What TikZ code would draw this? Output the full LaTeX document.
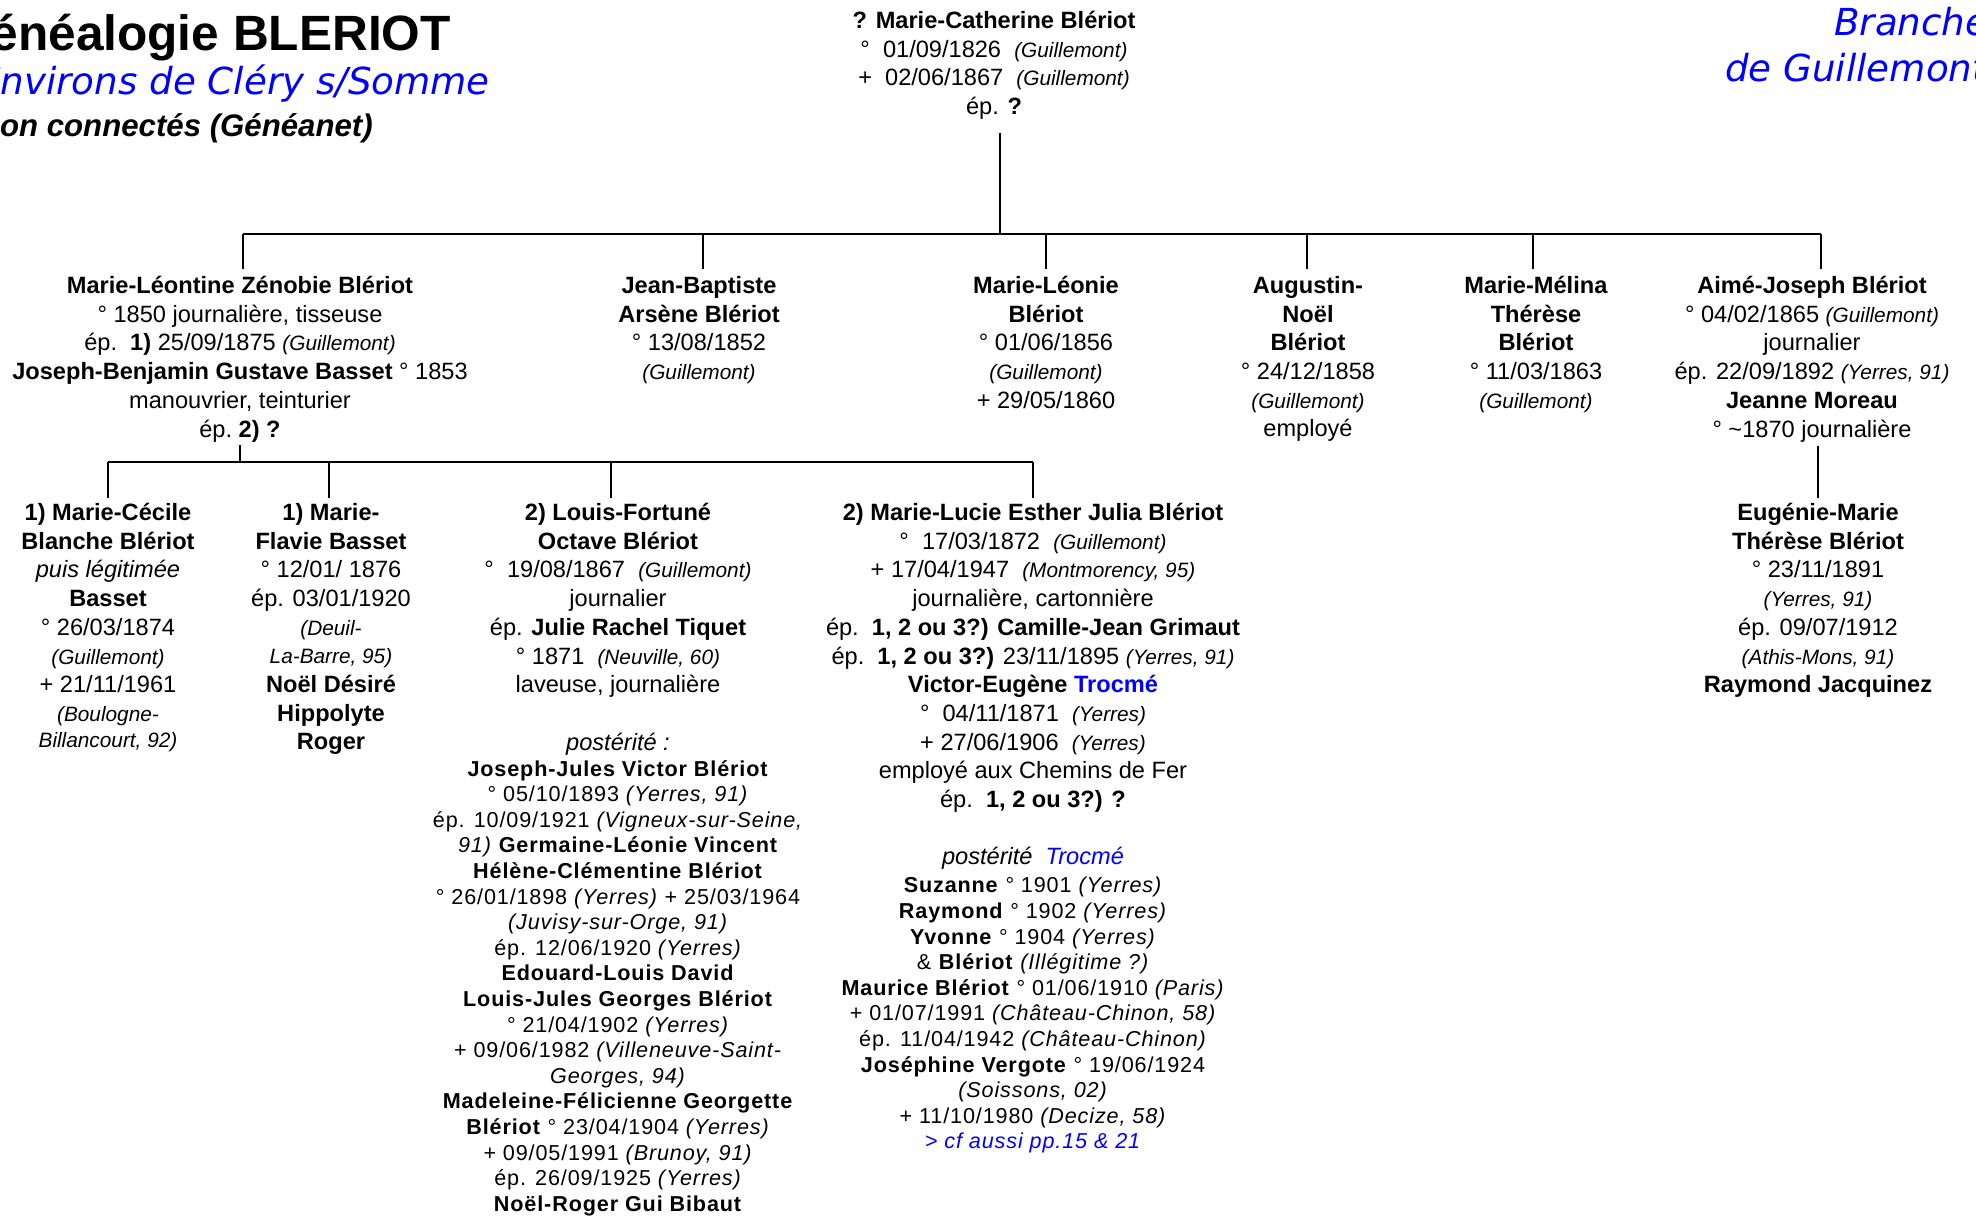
\documentclass[tikz,border=0pt]{standalone}
\usepackage{fontspec}
\setmainfont{Liberation Sans}
\newfontfamily\verdana{DejaVu Sans}
\newfontfamily\postfont[LetterSpace=4]{Liberation Sans}
\newcommand{\lieu}[1]{{\fontsize{10.4}{14.35}\selectfont\itshape #1}}

\begin{document}
\begin{tikzpicture}[x=0.5pt,y=-0.5pt,line width=1.2pt,
  fiche/.style={anchor=north,align=center,inner sep=0pt,font=\fontsize{11.8}{14.35}\selectfont},
  descend/.style={anchor=north,align=center,inner sep=0pt,font=\fontsize{10.8}{12.8}\postfont}]
\useasboundingbox (0,0) rectangle (1976,1217);
% titres
\node[anchor=base east,inner sep=0pt,font=\fontsize{24.8}{28}\selectfont\bfseries] (t1)at(452,50){Généalogie BLERIOT};
\node[anchor=base east,inner sep=0pt,text=blue,font=\fontsize{18.6}{22}\verdana\itshape] (t2)at(491,94){Environs de Cléry s/Somme};
\node[anchor=base east,inner sep=0pt,font=\fontsize{15.6}{19}\selectfont\bfseries\itshape] (t3)at(374,136){non connectés (Généanet)};
\node[anchor=base west,inner sep=0pt,text=blue,font=\fontsize{18.6}{22}\verdana\itshape] (t4)at(1833,35){Branche};
\node[anchor=base west,inner sep=0pt,text=blue,font=\fontsize{18.6}{22}\verdana\itshape] (t5)at(1724,81){de Guillemont};
% mere
\node[fiche] (0)at(994,10){\textbf{? Marie-Catherine Blériot}\\°\ \ 01/09/1826\ \ \lieu{(Guillemont)}\\+\ \ 02/06/1867\ \ \lieu{(Guillemont)}\\ép. \textbf{?}};
% enfants
\node[fiche] (1)at(240,275){\textbf{Marie-Léontine Zénobie Blériot}\\°\ 1850\ journalière,\ tisseuse\\ép.\ \ \textbf{1)} 25/09/1875\ \lieu{(Guillemont)}\\\textbf{Joseph-Benjamin Gustave Basset} ° 1853\\manouvrier,\ teinturier\\ép.\ \textbf{2) ?}};
\node[fiche] (2)at(699,275){\textbf{Jean-Baptiste}\\\textbf{Arsène Blériot}\\° 13/08/1852\\\lieu{(Guillemont)}};
\node[fiche] (3)at(1046,275){\textbf{Marie-Léonie}\\\textbf{Blériot}\\° 01/06/1856\\\lieu{(Guillemont)}\\+ 29/05/1860};
\node[fiche] (4)at(1308,275){\textbf{Augustin-}\\\textbf{Noël}\\\textbf{Blériot}\\° 24/12/1858\\\lieu{(Guillemont)}\\employé};
\node[fiche] (5)at(1536,275){\textbf{Marie-Mélina}\\\textbf{Thérèse}\\\textbf{Blériot}\\° 11/03/1863\\\lieu{(Guillemont)}};
\node[fiche] (6)at(1812,275){\textbf{Aimé-Joseph Blériot}\\° 04/02/1865 \lieu{(Guillemont)}\\journalier\\ép. 22/09/1892 \lieu{(Yerres, 91)}\\\textbf{Jeanne Moreau}\\° \textasciitilde1870 journalière};
% petits-enfants
\node[fiche] (11)at(108,502){\textbf{1) Marie-Cécile}\\\textbf{Blanche Blériot}\\\textit{puis légitimée}\\\textbf{Basset}\\° 26/03/1874\\\lieu{(Guillemont)}\\+ 21/11/1961\\\lieu{(Boulogne-}\\[-1.5pt]\lieu{Billancourt, 92)}};
\node[fiche] (12)at(331,502){\textbf{1) Marie-}\\\textbf{Flavie Basset}\\° 12/01/ 1876\\ép. 03/01/1920\\\lieu{(Deuil-}\\\lieu{La-Barre, 95)}\\\textbf{Noël Désiré}\\\textbf{Hippolyte}\\\textbf{Roger}};
\node[fiche] (13)at(618,502){\textbf{2) Louis-Fortuné}\\\textbf{Octave Blériot}\\°\ \ 19/08/1867\ \ \lieu{(Guillemont)}\\journalier\\ép. \textbf{Julie Rachel Tiquet}\\°\ 1871\ \ \lieu{(Neuville, 60)}\\laveuse,\ journalière\\[14.35pt]\textit{postérité :}};
\node[fiche] (14)at(1033,502){\textbf{2) Marie-Lucie Esther Julia Blériot}\\°\ \ 17/03/1872\ \ \lieu{(Guillemont)}\\+\ 17/04/1947\ \ \lieu{(Montmorency, 95)}\\journalière,\ cartonnière\\ép.\ \ \textbf{1, 2 ou 3?) Camille-Jean Grimaut}\\ép.\ \ \textbf{1, 2 ou 3?)} 23/11/1895 \lieu{(Yerres, 91)}\\\textbf{Victor-Eugène \textcolor{blue}{Trocmé}}\\°\ \ 04/11/1871\ \ \lieu{(Yerres)}\\+\ 27/06/1906\ \ \lieu{(Yerres)}\\employé aux Chemins de Fer\\ép.\ \ \textbf{1, 2 ou 3?) ?}\\[14.35pt]\textit{postérité\ \ \textcolor{blue}{Trocmé}}};
\node[fiche] (61)at(1818,502){\textbf{Eugénie-Marie}\\\textbf{Thérèse Blériot}\\° 23/11/1891\\\lieu{(Yerres, 91)}\\ép. 09/07/1912\\\lieu{(Athis-Mons, 91)}\\\textbf{Raymond Jacquinez}};
% posterite
\node[descend] (13p)at(618,759){\textbf{Joseph-Jules Victor Blériot}\\° 05/10/1893 \textit{(Yerres, 91)}\\ép. 10/09/1921 \textit{(Vigneux-sur-Seine,}\\\textit{91)} \textbf{Germaine-Léonie Vincent}\\\textbf{Hélène-Clémentine Blériot}\\° 26/01/1898 \textit{(Yerres)} + 25/03/1964\\\textit{(Juvisy-sur-Orge, 91)}\\ép. 12/06/1920 \textit{(Yerres)}\\\textbf{Edouard-Louis David}\\\textbf{Louis-Jules Georges Blériot}\\° 21/04/1902 \textit{(Yerres)}\\+ 09/06/1982 \textit{(Villeneuve-Saint-}\\\textit{Georges, 94)}\\\textbf{Madeleine-Félicienne Georgette}\\\textbf{Blériot} ° 23/04/1904 \textit{(Yerres)}\\+ 09/05/1991 \textit{(Brunoy, 91)}\\ép. 26/09/1925 \textit{(Yerres)}\\\textbf{Noël-Roger Gui Bibaut}};
\node[descend] (14p)at(1033,876){\textbf{Suzanne} ° 1901 \textit{(Yerres)}\\\textbf{Raymond} ° 1902 \textit{(Yerres)}\\\textbf{Yvonne} ° 1904 \textit{(Yerres)}\\\& \textbf{Blériot} \textit{(Illégitime ?)}\\\textbf{Maurice Blériot} ° 01/06/1910 \textit{(Paris)}\\+ 01/07/1991 \textit{(Château-Chinon, 58)}\\ép. 11/04/1942 \textit{(Château-Chinon)}\\\textbf{Joséphine Vergote} ° 19/06/1924\\\textit{(Soissons, 02)}\\+ 11/10/1980 \textit{(Decize, 58)}\\\textcolor{blue}{\textit{> cf aussi pp.15 \& 21}}};
% liens
\coordinate (j0)at(1000,234);
\coordinate (d1)at(243,234);
\coordinate (d2)at(703,234);
\coordinate (d3)at(1046,234);
\coordinate (d4)at(1307,234);
\coordinate (d5)at(1533,234);
\coordinate (d6)at(1821,234);
\draw[shorten <=6pt] (0.south -| j0) -- (j0);
\draw (d1) -- (d6);
\foreach \n in {1,...,6} \draw[shorten >=3pt] (d\n) -- (d\n |- \n.north);
\coordinate (g1)at(108,462);
\coordinate (g2)at(329,462);
\coordinate (g3)at(611,462);
\coordinate (g4)at(1033,462);
\draw[shorten <=1pt] (1.south) -- (1.south |- g1);
\draw (g1) -- (g4);
\foreach \n in {1,...,4} \draw[shorten >=2pt] (g\n) -- (g\n |- 1\n.north);
\draw[shorten <=1.5pt,shorten >=2pt] (61.north |- 6.south) -- (61.north);
\end{tikzpicture}
\end{document}
